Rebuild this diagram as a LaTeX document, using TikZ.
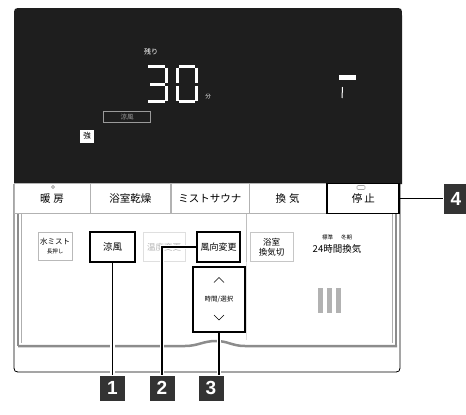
\documentclass[tikz,border=0pt]{standalone}
\usepackage{fontspec}
\setmainfont{Noto Sans CJK JP}
\newfontfamily\tagfont{Liberation Sans}
\usetikzlibrary{positioning,calc}
\definecolor{lcdblack}{HTML}{1E1E1E}
\definecolor{lcdgray}{HTML}{9A9A9A}
\definecolor{framegray}{HTML}{8C8C8C}
\definecolor{tagdark}{HTML}{333333}

\begin{document}
\begin{tikzpicture}[x=1pt,y=-1pt,inner sep=0pt,
   tab/.style={draw=gray!60,fill=white,minimum height=30pt,
               font=\fontsize{10.5}{10.5}\selectfont},
   key/.style={draw,line width=1.6pt,fill=white,minimum height=30pt,align=center},
   softkey/.style={draw=gray!55,fill=white,minimum height=29pt,align=center},
   seg/.style={white,line width=3pt},
   lead/.style={line width=1.3pt,
                preaction={draw=white,line width=4.5pt,shorten <=2pt,shorten >=2pt}},
   tag/.style={fill=tagdark,text=white,minimum width=25pt,minimum height=25pt,
               font=\tagfont\bfseries\fontsize{19}{19}\selectfont}]
  \useasboundingbox (0,0) rectangle (466,415);
  % display
  \fill[lcdblack] (14,184) -- (14,16) .. controls (14,8) .. (22,8) -- (394,8)
        .. controls (402,8) .. (402,16) -- (402,184) -- cycle;
  \node[white,font=\fontsize{7}{7}\selectfont] (remain) at (151,52) {残り};
  \draw[seg] (148,66) -- (165,66) (150,84) -- (165,84) (148,101) -- (165,101)
        (166.5,67.5) -- (166.5,82.5) (166.5,85.5) -- (166.5,100.5);
  \draw[seg] (179,66) -- (195,66) (179,101) -- (195,101)
        (177.5,67.5) -- (177.5,82.5) (177.5,85.5) -- (177.5,100.5)
        (196.5,67.5) -- (196.5,82.5) (196.5,85.5) -- (196.5,100.5);
  \node[white,font=\fontsize{5.5}{5.5}\selectfont] (minute) at (208,96) {分};
  \node[draw=lcdgray,text=lcdgray,minimum width=47pt,minimum height=11pt,
        font=\fontsize{6.5}{6.5}\selectfont] (coolmode) at (127,117) {涼風};
  \node[fill=white,minimum width=14pt,minimum height=13pt,
        font=\fontsize{7.5}{7.5}\selectfont] (strong) at (87,136) {強};
  \fill[white] (339,75) rectangle (356,80);
  \draw[white,line width=1pt] (342.5,87) -- (342,98);

  % lower panel
  \draw[line width=0.8pt] (14,184) -- (14,364) .. controls (14,372) .. (22,372)
        -- (392,372) .. controls (400,372) .. (400,364) -- (400,184);
  \draw[framegray,line width=1.2pt] (18,214) -- (18,346) (396,214) -- (396,346);
  \draw[framegray!70,line width=0.7pt] (21.5,214) -- (21.5,343) (392.5,214) -- (392.5,343);
  \draw[framegray,line width=2.5pt] (18,346) -- (185,346)
        .. controls (198,346) and (203,341) .. (216,341)
        .. controls (228,341) and (232,346) .. (245,346) -- (397,346);
  \draw[gray!50,line width=0.5pt] (246.5,214) -- (246.5,262);
  \draw[gray!25,line width=0.5pt] (246.5,262) -- (246.5,340);

  % mode tabs
  \node[tab,minimum width=76pt] (heat) at (52,198.5) {暖\hspace{3pt}房};
  \node[tab,minimum width=80pt,right=0pt of heat] (dry) {浴室乾燥};
  \node[tab,minimum width=78pt,right=0pt of dry] (sauna) {ミストサウナ};
  \node[tab,minimum width=77pt,right=0pt of sauna] (vent) {換\hspace{3pt}気};
  \node[tab,draw=black,line width=1.8pt,minimum width=72pt,right=0pt of vent]
       (stop) {\raisebox{-2pt}{停\hspace{2pt}止}};
  \draw[gray,line width=0.5pt] (53,187) circle (1.5);
  \draw[gray!70,line width=0.6pt,rounded corners=1pt] (357,185.5) rectangle (365,189.5);

  % keys
  \node[softkey,minimum width=34pt,minimum height=28pt,font=\fontsize{7.5}{8}\selectfont]
       (mist) at (55,246) {水ミスト\\[1pt]{\fontsize{5.5}{6}\selectfont 長押し}};
  \node[key,minimum width=45pt,font=\fontsize{9.5}{9.5}\selectfont] (cool) at (112.5,247) {涼風};
  \node[softkey,draw=gray!25,text=gray!60,minimum width=42pt,
        font=\fontsize{8.5}{8.5}\selectfont] (temp) at (164,247) {温度変更};
  \node[key,minimum width=43pt,font=\fontsize{9}{9}\selectfont] (winddir) at (218.5,247)
       {風向変更};
  \node[softkey,draw=gray!45,minimum width=43pt,font=\fontsize{8.5}{10}\selectfont]
       (ventoff) at (271.5,247) {浴室\\換気切};
  \node[font=\fontsize{5.5}{5.5}\selectfont] (season) at (337,237) {標準\hspace{8pt}冬期};
  \node[font=\fontsize{9.5}{9.5}\selectfont] (allday) at (337,248.5) {24時間換気};
  \node[key,minimum width=52pt,minimum height=65pt,font=\fontsize{6.5}{6.5}\selectfont]
       (timesel) at (219,299.5) {時間/選択};
  \draw[line width=0.6pt] ($(timesel.center)+(-5,-17)$) -- ($(timesel.center)+(0,-22)$)
        -- ($(timesel.center)+(5,-17)$);
  \draw[line width=0.6pt] ($(timesel.center)+(-5,15.5)$) -- ($(timesel.center)+(0,20.5)$)
        -- ($(timesel.center)+(5,15.5)$);
  \foreach \bx in {318,327,336}
    \fill[gray!60] (\bx,288) rectangle ++(4.5,25);

  % number tags
  \node[tag] (t1) at (112.5,388) {1};
  \node[tag] (t2) at (162,388) {2};
  \node[tag] (t3) at (211,388) {3};
  \node[tag,minimum height=30pt] (t4) at (456,198.5) {4};
  \draw[lead] (cool.south) -- (t1.north);
  \draw[lead] (winddir.west) -| (t2.north);
  \draw[lead] (timesel.south) -- (timesel.south |- t3.north);
  \draw[lead] (stop.east) -- (t4.west);
\end{tikzpicture}
\end{document}
